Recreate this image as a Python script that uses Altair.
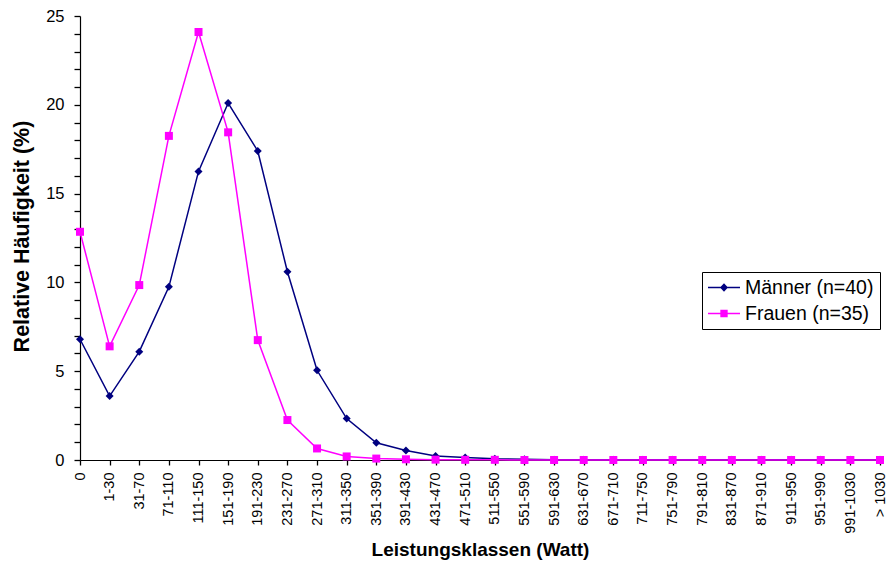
import altair as alt
import pandas as pd

# Leistungsklassen (x-Achse)
klassen = [
    "0", "1-30", "31-70", "71-110", "111-150", "151-190", "191-230",
    "231-270", "271-310", "311-350", "351-390", "391-430", "431-470",
    "471-510", "511-550", "551-590", "591-630", "631-670", "671-710",
    "711-750", "751-790", "791-810", "831-870", "871-910", "911-950",
    "951-990", "991-1030", "> 1030",
]

# Relative Häufigkeit in Prozent je Klasse
maenner = [
    6.8, 3.6, 6.1, 9.75, 16.25, 20.1, 17.4, 10.6, 5.05, 2.33, 0.97, 0.53,
    0.23, 0.14, 0.07, 0.04, 0.02, 0.02, 0.01, 0.01, 0.01, 0.01, 0.01, 0.01,
    0.01, 0.01, 0.01, 0.01,
]
frauen = [
    12.85, 6.4, 9.85, 18.25, 24.1, 18.45, 6.75, 2.25, 0.65, 0.2, 0.08, 0.04,
    0.02, 0.01, 0.01, 0.0, 0.0, 0.0, 0.0, 0.0, 0.0, 0.0, 0.0, 0.0,
    0.0, 0.0, 0.0, 0.0,
]

serien = ["Männer (n=40)", "Frauen (n=35)"]
farben = ["#000080", "#FF00FF"]
marker = ["diamond", "square"]

# Legendensymbole: Linienstück mit Marker in der Mitte
legenden_symbole = [
    "M-1,-0.05L1,-0.05L1,0.05L-1,0.05Z M0,-0.27L0.25,0L0,0.27L-0.25,0Z",
    "M-1,-0.05L1,-0.05L1,0.05L-1,0.05Z M-0.23,-0.23L0.23,-0.23L0.23,0.23L-0.23,0.23Z",
]

df = pd.DataFrame({
    "Klasse": klassen * 2,
    "Anteil": maenner + frauen,
    "Serie": [serien[0]] * len(klassen) + [serien[1]] * len(klassen),
})

FONT = "Liberation Sans"

x = alt.X(
    "Klasse:N",
    sort=klassen,
    scale=alt.Scale(type="point", padding=0),
    axis=alt.Axis(
        title="Leistungsklassen (Watt)",
        titleFontSize=19,
        titleFontWeight="bold",
        titleX=400,
        titleY=95,
        titleBaseline="alphabetic",
        titleAlign="center",
        labelAngle=270,
        labelFontSize=14.5,
        labelPadding=7,
        ticks=True,
        tickSize=5,
        labelOverlap=False,
    ),
)

y = alt.Y(
    "Anteil:Q",
    scale=alt.Scale(domain=[0, 25], nice=False, zero=True),
    axis=alt.Axis(
        title="Relative Häufigkeit (%)",
        titleFontSize=21.5,
        titleFontWeight="bold",
        titleAngle=270,
        titleX=-52,
        titleY=220,
        titleAlign="center",
        titleBaseline="alphabetic",
        values=list(range(26)),
        labelExpr="datum.value % 5 === 0 ? datum.label : ''",
        labelFontSize=16.5,
        labelPadding=10,
        ticks=True,
        tickSize=6,
    ),
)

base = alt.Chart(df)

layers = []
for name, col, shp in zip(serien, farben, marker):
    sub = base.transform_filter(alt.datum.Serie == name)
    layers.append(sub.mark_line(strokeWidth=1.5, color=col).encode(x=x, y=y))
    layers.append(
        sub.mark_point(shape=shp, filled=True, size=64, opacity=1, color=col).encode(x=x, y=y)
    )

legende = alt.Legend(
    title=None,
    orient="none",
    legendX=622,
    legendY=256,
    strokeColor="black",
    fillColor="white",
    padding=6,
    cornerRadius=0,
    symbolSize=1024,
    symbolStrokeWidth=0,
    symbolOpacity=1,
    labelFontSize=19.5,
    labelFont=FONT,
    labelColor="black",
    labelOffset=5,
    clipHeight=19,
    rowPadding=6,
)

legenden_layer = base.mark_point(filled=True, opacity=0).encode(
    x=x,
    y=y,
    color=alt.Color("Serie:N", sort=serien,
                    scale=alt.Scale(domain=serien, range=farben), legend=legende),
    shape=alt.Shape("Serie:N", sort=serien,
                    scale=alt.Scale(domain=serien, range=legenden_symbole), legend=legende),
)

chart = alt.layer(*layers, legenden_layer).properties(
    width=800,
    height=444,
    autosize=alt.AutoSizeParams(type="none"),
    padding={"left": 80, "top": 16, "right": 7, "bottom": 105},
    background="white",
).configure_view(
    stroke=None
).configure_axis(
    grid=False,
    domainColor="black",
    domainWidth=1.2,
    tickColor="black",
    tickWidth=1.3,
    labelColor="black",
    titleColor="black",
    labelFont=FONT,
    titleFont=FONT,
)

chart.save("out.html", embed_options={"renderer": "svg", "actions": False})
